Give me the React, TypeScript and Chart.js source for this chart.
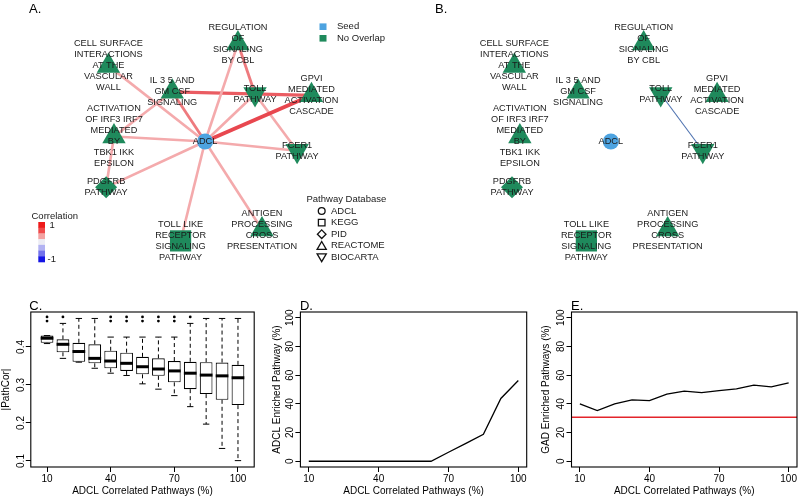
import React, { useEffect, useRef } from "react";
import { Chart, registerables } from "chart.js";
Chart.register(...registerables);

const FONT = "'Liberation Sans', Arial, Helvetica, sans-serif";

// ---------------- Network data (panels A & B) ----------------
const nodeLabels: string[][] = [
  ["ADCL"],
  ["REGULATION", "OF", "SIGNALING", "BY CBL"],
  ["CELL SURFACE", "INTERACTIONS", "AT THE", "VASCULAR", "WALL"],
  ["IL 3 5 AND", "GM CSF", "SIGNALING"],
  ["TOLL", "PATHWAY"],
  ["GPVI", "MEDIATED", "ACTIVATION", "CASCADE"],
  ["ACTIVATION", "OF IRF3 IRF7", "MEDIATED", "BY", "TBK1 IKK", "EPSILON"],
  ["FCER1", "PATHWAY"],
  ["PDGFRB", "PATHWAY"],
  ["TOLL LIKE", "RECEPTOR", "SIGNALING", "PATHWAY"],
  ["ANTIGEN", "PROCESSING", "CROSS", "PRESENTATION"],
];
const nodeX = [205.5, 241, 101, 170, 259.5, 320.5, 107, 305, 98.5, 179, 267];
const nodeY = [141.7, 32, 57, 86, 88.5, 90, 136, 152, 193, 253, 240.3];
const nodeDatabase = ["ADCL", "REACTOME", "REACTOME", "REACTOME", "BIOCARTA", "REACTOME", "REACTOME", "BIOCARTA", "PID", "KEGG", "REACTOME"];
const nodeOverlap = ["Seed", "No Overlap", "No Overlap", "No Overlap", "No Overlap", "No Overlap", "No Overlap", "No Overlap", "No Overlap", "No Overlap", "No Overlap"];

const edgeFromA = [0, 0, 0, 0, 0, 0, 0, 0, 0, 0, 1, 3, 4, 3, 6];
const edgeToA = [1, 2, 3, 4, 5, 6, 7, 8, 9, 10, 4, 5, 7, 6, 8];
const edgeCorrA = [0.35, 0.35, 0.55, 0.35, 0.75, 0.35, 0.35, 0.35, 0.35, 0.35, 0.55, 0.65, 0.35, 0.35, 0.35];

const edgeFromB = [4];
const edgeToB = [7];

const corrLegendColors = ["#EE1A1A", "#F04A4A", "#F3A2A2", "#ECECF4", "#B2B2F2", "#7272EC", "#1414E4"];
const dbLegend = ["ADCL", "KEGG", "PID", "REACTOME", "BIOCARTA"];
const overlapLegend = ["Seed", "No Overlap"];
const overlapColors: Record<string, string> = { Seed: "#4DA3E0", "No Overlap": "#1F8A5C" };

// ---------------- Panel C data ----------------
const pctCorrelated = [10, 17.5, 25, 32.5, 40, 47.5, 55, 62.5, 70, 77.5, 85, 92.5, 100];
const boxLow = [0.409, 0.370, 0.360, 0.344, 0.331, 0.325, 0.303, 0.289, 0.272, 0.243, 0.197, 0.133, 0.101];
const boxQ1 = [0.411, 0.386, 0.361, 0.357, 0.344, 0.337, 0.328, 0.324, 0.307, 0.289, 0.276, 0.261, 0.247];
const boxMedian = [0.423, 0.407, 0.388, 0.370, 0.363, 0.357, 0.348, 0.342, 0.337, 0.331, 0.326, 0.324, 0.319];
const boxQ3 = [0.430, 0.420, 0.411, 0.407, 0.390, 0.385, 0.374, 0.370, 0.363, 0.361, 0.360, 0.359, 0.353];
const boxHigh = [0.430, 0.462, 0.475, 0.475, 0.426, 0.426, 0.426, 0.426, 0.426, 0.462, 0.475, 0.475, 0.475];
const outlierX = [10, 10, 17.5, 40, 40, 47.5, 47.5, 55, 55, 62.5, 62.5, 70, 70, 77.5];
const outlierY = [0.479, 0.468, 0.479, 0.479, 0.468, 0.479, 0.468, 0.479, 0.468, 0.479, 0.468, 0.479, 0.468, 0.479];
const xTicks = [10, 40, 70, 100];
const yTicksC = [0.1, 0.2, 0.3, 0.4];

// ---------------- Panel D / E data ----------------
const adclEnriched = [0, 0, 0, 0, 0, 0, 0, 0, 6.25, 12.5, 18.75, 43.75, 56.25];
const gadEnriched = [40, 35.3, 40, 42.8, 42.2, 46.8, 48.8, 47.8, 49.2, 50.4, 53, 51.9, 54.6];
const gadBaseline = 30.7;
const yTicksPct = [0, 20, 40, 60, 80, 100];

// ---------------- helpers ----------------
function shapeFor(db: string) {
  switch (db) {
    case "ADCL": return { style: "circle", r: 8, rot: 0 };
    case "KEGG": return { style: "rect", r: 15, rot: 0 };
    case "PID": return { style: "rectRot", r: 11, rot: 0 };
    case "BIOCARTA": return { style: "triangle", r: 13.5, rot: 180 };
    default: return { style: "triangle", r: 13.5, rot: 0 };
  }
}
function edgeStyle(c: number) {
  if (c >= 0.7) return { color: "#E8474F", width: 3.8 };
  if (c >= 0.6) return { color: "#EA5C62", width: 3.2 };
  if (c >= 0.5) return { color: "#EE7A7E", width: 2.8 };
  return { color: "#F4AAAC", width: 2.6 };
}

function useChart(ref: React.RefObject<HTMLCanvasElement>, make: () => any) {
  useEffect(() => {
    if (!ref.current) return;
    const chart = new Chart(ref.current, make());
    return () => chart.destroy();
  }, []);
}

function letterPlugin(letter: string, xFn: (c: any) => number, yFn: (c: any) => number) {
  return {
    id: "letter" + letter,
    afterDraw(chart: any) {
      const ctx = chart.ctx;
      ctx.save();
      ctx.font = `13px ${FONT}`;
      ctx.fillStyle = "#000";
      ctx.textAlign = "left";
      ctx.textBaseline = "alphabetic";
      ctx.fillText(letter, xFn(chart), yFn(chart));
      ctx.restore();
    },
  };
}

function networkConfig(width: number, from: number[], to: number[], colors: string[], widths: number[], letter: string, legend: boolean) {
  const nodeDs = {
    type: "scatter",
    data: nodeX.map((x, i) => ({ x, y: nodeY[i] })),
    pointStyle: nodeDatabase.map((d) => shapeFor(d).style),
    pointRadius: nodeDatabase.map((d) => shapeFor(d).r),
    pointRotation: nodeDatabase.map((d) => shapeFor(d).rot),
    pointBackgroundColor: nodeOverlap.map((g) => overlapColors[g]),
    pointBorderWidth: 0,
    pointHoverRadius: nodeDatabase.map((d) => shapeFor(d).r),
    clip: false,
    order: 0,
  };
  const edgeDs = from.map((f, k) => ({
    type: "line",
    data: [
      { x: nodeX[f], y: nodeY[f] },
      { x: nodeX[to[k]], y: nodeY[to[k]] },
    ],
    borderColor: colors[k],
    borderWidth: widths[k],
    pointRadius: 0,
    showLine: true,
    fill: false,
    clip: false,
    order: 1,
  }));
  const labelPlugin = {
    id: "netLabels",
    afterDatasetsDraw(chart: any) {
      const { ctx, scales } = chart;
      ctx.save();
      ctx.font = `9.2px ${FONT}`;
      ctx.fillStyle = "#1a1a1a";
      ctx.textAlign = "center";
      ctx.textBaseline = "middle";
      nodeLabels.forEach((lines, i) => {
        const px = scales.x.getPixelForValue(nodeX[i]);
        const py = scales.y.getPixelForValue(nodeY[i]);
        lines.forEach((ln, k) => ctx.fillText(ln, px, py + (k - (lines.length - 1) / 2) * 11));
      });
      ctx.restore();
    },
  };
  const legendPlugin = {
    id: "netLegend",
    afterDraw(chart: any) {
      if (!legend) return;
      const ctx = chart.ctx;
      ctx.save();
      ctx.font = `9.5px ${FONT}`;
      ctx.fillStyle = "#1a1a1a";
      ctx.textBaseline = "middle";
      ctx.textAlign = "left";
      overlapLegend.forEach((g, i) => {
        const yy = 26.7 + i * 11.6;
        ctx.fillStyle = overlapColors[g];
        ctx.fillRect(319.5, yy - 3.3, 7, 6.6);
        ctx.fillStyle = "#1a1a1a";
        ctx.fillText(g, 337, yy);
      });
      ctx.fillText("Correlation", 31.5, 216);
      const h = 40 / corrLegendColors.length;
      corrLegendColors.forEach((c, i) => {
        ctx.fillStyle = c;
        ctx.fillRect(38.3, 222 + i * h, 6.7, h + 0.3);
      });
      ctx.fillStyle = "#1a1a1a";
      ctx.fillText("1", 49.5, 225.5);
      ctx.fillText("-1", 47.5, 259.5);
      ctx.fillText("Pathway Database", 306.5, 199.5);
      ctx.strokeStyle = "#111";
      ctx.lineWidth = 1.3;
      dbLegend.forEach((d, i) => {
        const yy = 211 + i * 11.6;
        const xx = 321.7;
        ctx.beginPath();
        if (d === "ADCL") ctx.arc(xx, yy, 3.4, 0, Math.PI * 2);
        else if (d === "KEGG") ctx.rect(xx - 3.3, yy - 3.3, 6.6, 6.6);
        else if (d === "PID") { ctx.moveTo(xx, yy - 4.3); ctx.lineTo(xx + 4.3, yy); ctx.lineTo(xx, yy + 4.3); ctx.lineTo(xx - 4.3, yy); ctx.closePath(); }
        else if (d === "REACTOME") { ctx.moveTo(xx, yy - 4.3); ctx.lineTo(xx + 4.6, yy + 3.6); ctx.lineTo(xx - 4.6, yy + 3.6); ctx.closePath(); }
        else { ctx.moveTo(xx, yy + 4.3); ctx.lineTo(xx + 4.6, yy - 3.6); ctx.lineTo(xx - 4.6, yy - 3.6); ctx.closePath(); }
        ctx.stroke();
        ctx.fillText(d, 331, yy);
      });
      ctx.restore();
    },
  };
  return {
    type: "scatter",
    data: { datasets: [nodeDs, ...edgeDs] },
    options: {
      animation: false,
      responsive: false,
      events: [],
      layout: { padding: 0 },
      plugins: { legend: { display: false }, tooltip: { enabled: false } },
      scales: {
        x: { type: "linear", display: false, min: 0, max: width },
        y: { type: "linear", display: false, min: 0, max: 280, reverse: true },
      },
    },
    plugins: [labelPlugin, legendPlugin, letterPlugin(letter, () => 29, () => 13)],
  };
}

function axisX(min: number, max: number, title: string) {
  return {
    type: "linear",
    min,
    max,
    offset: false,
    afterBuildTicks: (s: any) => { s.ticks = xTicks.map((v) => ({ value: v })); },
    afterFit: (s: any) => { s.height = 31; },
    grid: { display: true, offset: false, drawOnChartArea: false, drawTicks: true, tickLength: 5, color: "#000", tickColor: "#000", tickWidth: 1 },
    border: { display: false },
    ticks: { color: "#000", font: { family: FONT, size: 10 }, padding: 1, maxRotation: 0, minRotation: 0, autoSkip: false, callback: (v: any) => String(v) },
    title: { display: true, text: title, color: "#000", font: { family: FONT, size: 10 }, padding: { top: 0, bottom: 1 } },
  };
}
function axisY(min: number, max: number, ticks: number[], title: string, width: number, pad: number) {
  return {
    type: "linear",
    min,
    max,
    beginAtZero: false,
    afterBuildTicks: (s: any) => { s.ticks = ticks.map((v) => ({ value: v })); },
    afterFit: (s: any) => { s.width = width; },
    grid: { display: true, drawOnChartArea: false, drawTicks: true, tickLength: 5, color: "#000", tickColor: "#000", tickWidth: 1 },
    border: { display: false },
    ticks: { color: "#000", font: { family: FONT, size: 10 }, padding: pad, minRotation: 90, maxRotation: 90, crossAlign: "center", autoSkip: false, callback: (v: any) => String(v) },
    title: { display: true, text: title, color: "#000", font: { family: FONT, size: 10 }, padding: { top: 0, bottom: 0 } },
  };
}
const boxFramePlugin = {
  id: "boxFrame",
  afterDraw(chart: any) {
    const { ctx, chartArea: a } = chart;
    ctx.save();
    ctx.strokeStyle = "#000";
    ctx.lineWidth = 1.1;
    ctx.strokeRect(a.left, a.top, a.right - a.left, a.bottom - a.top);
    ctx.restore();
  },
};

function boxConfig() {
  const whiskerPlugin = {
    id: "whiskers",
    beforeDatasetsDraw(chart: any) {
      const { ctx, scales } = chart;
      const meta = chart.getDatasetMeta(0);
      ctx.save();
      ctx.strokeStyle = "#000";
      ctx.lineWidth = 1;
      pctCorrelated.forEach((p, i) => {
        const px = scales.x.getPixelForValue(p);
        const half = (meta.data[i]?.width || 12) / 2;
        const yLo = scales.y.getPixelForValue(boxLow[i]);
        const yHi = scales.y.getPixelForValue(boxHigh[i]);
        const y1 = scales.y.getPixelForValue(boxQ1[i]);
        const y3 = scales.y.getPixelForValue(boxQ3[i]);
        ctx.setLineDash([4, 3]);
        ctx.beginPath();
        ctx.moveTo(px, y3); ctx.lineTo(px, yHi);
        ctx.moveTo(px, y1); ctx.lineTo(px, yLo);
        ctx.stroke();
        ctx.setLineDash([]);
        ctx.beginPath();
        ctx.moveTo(px - half / 2, yHi); ctx.lineTo(px + half / 2, yHi);
        ctx.moveTo(px - half / 2, yLo); ctx.lineTo(px + half / 2, yLo);
        ctx.stroke();
      });
      ctx.restore();
    },
    afterDatasetsDraw(chart: any) {
      const { ctx, scales } = chart;
      const meta = chart.getDatasetMeta(0);
      ctx.save();
      ctx.strokeStyle = "#000";
      ctx.lineWidth = 3;
      pctCorrelated.forEach((p, i) => {
        const px = scales.x.getPixelForValue(p);
        const half = (meta.data[i]?.width || 12) / 2;
        const ym = scales.y.getPixelForValue(boxMedian[i]);
        ctx.beginPath();
        ctx.moveTo(px - half, ym); ctx.lineTo(px + half, ym);
        ctx.stroke();
      });
      ctx.restore();
    },
  };
  return {
    type: "bar",
    data: {
      datasets: [
        {
          type: "bar",
          data: pctCorrelated.map((p, i) => ({ x: p, y: [boxQ1[i], boxQ3[i]] })),
          backgroundColor: "#fff",
          borderColor: "#000",
          borderWidth: 1.1,
          borderSkipped: false,
          categoryPercentage: 1,
          barPercentage: 0.8,
          order: 1,
        },
        {
          type: "scatter",
          data: outlierX.map((x, i) => ({ x, y: outlierY[i] })),
          pointRadius: 1.4,
          pointBackgroundColor: "#000",
          pointBorderWidth: 0,
          order: 0,
        },
      ],
    },
    options: {
      animation: false,
      responsive: false,
      events: [],
      layout: { padding: { left: 0, right: 15.8, top: 32, bottom: 0 } },
      plugins: { legend: { display: false }, tooltip: { enabled: false } },
      scales: {
        x: axisX(2.35, 107.65, "ADCL Correlated Pathways (%)"),
        y: axisY(0.0842, 0.492, yTicksC, "|PathCor|", 30.8, -2),
      },
    },
    plugins: [whiskerPlugin, boxFramePlugin, letterPlugin("C.", (c) => c.chartArea.left - 1.5, (c) => c.chartArea.top - 2.5)],
  };
}

function lineConfig(letter: string, values: number[], yTitle: string, padLeft: number, yWidth: number, padRight: number, baseline?: number) {
  const datasets: any[] = [
    {
      type: "line",
      data: pctCorrelated.map((p, i) => ({ x: p, y: values[i] })),
      borderColor: "#000",
      borderWidth: 1.3,
      pointRadius: 0,
      tension: 0,
      fill: false,
    },
  ];
  if (baseline !== undefined) {
    datasets.push({
      type: "line",
      data: [{ x: 6.4, y: baseline }, { x: 103.6, y: baseline }],
      borderColor: "#E3242B",
      borderWidth: 1.5,
      pointRadius: 0,
      fill: false,
    });
  }
  return {
    type: "scatter",
    data: { datasets },
    options: {
      animation: false,
      responsive: false,
      events: [],
      layout: { padding: { left: padLeft, right: padRight, top: 32, bottom: 0 } },
      plugins: { legend: { display: false }, tooltip: { enabled: false } },
      scales: {
        x: axisX(6.4, 103.6, "ADCL Correlated Pathways (%)"),
        y: axisY(-4, 104, yTicksPct, yTitle, yWidth, -3),
      },
    },
    plugins: [boxFramePlugin, letterPlugin(letter, (c) => c.chartArea.left - 0.5, (c) => c.chartArea.top - 2.5)],
  };
}

function Panel({ left, top, width, height, make }: { left: number; top: number; width: number; height: number; make: () => any }) {
  const ref = useRef<HTMLCanvasElement>(null);
  useChart(ref, make);
  return (
    <canvas
      ref={ref}
      width={width}
      height={height}
      style={{ position: "absolute", left, top, width, height }}
    />
  );
}

export default function App() {
  const aStyles = edgeCorrA.map(edgeStyle);
  return (
    <div style={{ position: "fixed", left: 0, top: 0, width: 800, height: 498, background: "#fff", overflow: "hidden" }}>
      <Panel left={0} top={0} width={400} height={280}
        make={() => networkConfig(400, edgeFromA, edgeToA, aStyles.map((s) => s.color), aStyles.map((s) => s.width), "A.", true)} />
      <Panel left={406} top={0} width={394} height={280}
        make={() => networkConfig(394, edgeFromB, edgeToB, ["#4F73B0"], [1.1], "B.", false)} />
      <Panel left={0} top={280} width={270} height={218} make={boxConfig} />
      <Panel left={270} top={280} width={270} height={218}
        make={() => lineConfig("D.", adclEnriched, "ADCL Enriched Pathway (%)", 1, 29.4, 13.3)} />
      <Panel left={530} top={280} width={270} height={218}
        make={() => lineConfig("E.", gadEnriched, "GAD Enriched Pathways (%)", 10.5, 31, 3, gadBaseline)} />
    </div>
  );
}
